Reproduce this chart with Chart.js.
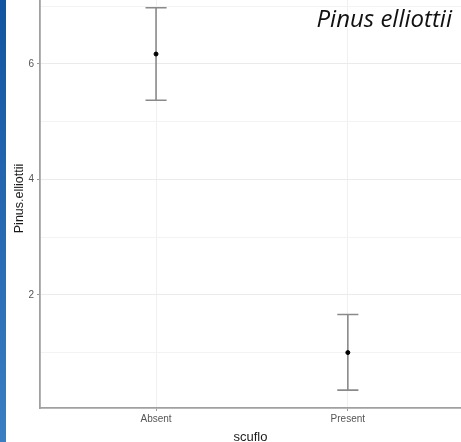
<!DOCTYPE html>
<html>
<head>
<meta charset="utf-8">
<script src="https://cdn.jsdelivr.net/npm/chart.js@4.4.1/dist/chart.umd.min.js"></script>
<style>
  html, body { margin: 0; padding: 0; background: #fff; overflow: hidden; }
  #wrap { position: relative; width: 461px; height: 442px; overflow: hidden; }
  #bar { position: absolute; left: 0; top: 0; width: 6px; height: 442px;
         background: linear-gradient(to bottom, #1354a0, #3b7ec2); z-index: 2; }
  #cv { position: absolute; left: 0; top: -20px; }
  #label { position: absolute; right: 9px; top: 4px; font-family: "Open Sans", sans-serif;
           font-style: italic; font-size: 24px; line-height: 1.2; color: #111; z-index: 3; }
</style>
</head>
<body>
<div id="wrap">
  <div id="bar"></div>
  <canvas id="cv" width="464" height="465"></canvas>
  <div id="label">Pinus elliottii</div>
</div>
<script>
const categories = ["Absent", "Present"];
const means = [6.17, 1.0];
const upper = [6.97, 1.66];
const lower = [5.37, 0.35];
const yMajorTicks = [2, 4, 6];
const yAllTicks = [1, 2, 3, 4, 5, 6, 7];

const points = categories.map((c, i) => ({ x: i + 1, y: means[i] }));

const errorBars = {
  id: 'errorBars',
  beforeDatasetsDraw(chart) {
    const { ctx, scales: { x, y } } = chart;
    ctx.save();
    ctx.strokeStyle = '#8a8a8a';
    ctx.lineWidth = 1.6;
    categories.forEach((c, i) => {
      const px = x.getPixelForValue(i + 1);
      const pu = y.getPixelForValue(upper[i]);
      const pl = y.getPixelForValue(lower[i]);
      const half = (x.getPixelForValue(1.055) - x.getPixelForValue(1));
      ctx.beginPath();
      ctx.moveTo(px, pu); ctx.lineTo(px, pl);
      ctx.moveTo(px - half, pu); ctx.lineTo(px + half, pu);
      ctx.moveTo(px - half, pl); ctx.lineTo(px + half, pl);
      ctx.stroke();
    });
    ctx.restore();
  }
};

new Chart(document.getElementById('cv'), {
  type: 'scatter',
  data: {
    datasets: [{
      data: points,
      backgroundColor: '#000',
      borderColor: '#000',
      pointRadius: 2,
      pointHoverRadius: 2
    }]
  },
  options: {
    responsive: false,
    animation: false,
    events: [],
    layout: { padding: 0 },
    plugins: { legend: { display: false }, tooltip: { enabled: false } },
    scales: {
      x: {
        type: 'linear',
        min: 0.395,
        max: 2.59,
        afterBuildTicks(axis) { axis.ticks = categories.map((c, i) => ({ value: i + 1 })); },
        afterFit(axis) { axis.height = 37; },
        ticks: {
          callback: (v) => categories[v - 1],
          color: '#555',
          font: { family: 'Liberation Sans', size: 10 },
          padding: 2,
          maxRotation: 0
        },
        grid: { color: '#f0f0f0', lineWidth: 1, tickLength: 3, tickColor: '#999' },
        border: { color: '#a0a0a0', width: 1.8 },
        title: {
          display: true,
          text: 'scuflo',
          color: '#1a1a1a',
          font: { family: 'Liberation Sans', size: 13 },
          padding: { top: 0, bottom: 0 }
        }
      },
      y: {
        type: 'linear',
        min: 0.04,
        max: 7.296,
        afterBuildTicks(axis) { axis.ticks = yAllTicks.map(v => ({ value: v })); },
        afterFit(axis) { axis.width = 40; },
        ticks: {
          callback: (v) => yMajorTicks.includes(v) ? String(v) : '',
          color: '#555',
          font: { family: 'Liberation Sans', size: 10 },
          padding: 3
        },
        grid: {
          color: (c) => (c.tick && yMajorTicks.includes(c.tick.value)) ? '#ebebeb' : '#f3f3f3',
          lineWidth: 1,
          tickLength: 3,
          tickColor: (c) => (c.tick && yMajorTicks.includes(c.tick.value)) ? '#999' : 'rgba(0,0,0,0)'
        },
        border: { color: '#a0a0a0', width: 1.8 },
        title: {
          display: true,
          text: 'Pinus.elliottii',
          color: '#1a1a1a',
          font: { family: 'Liberation Sans', size: 12.5 },
          padding: { top: 12, bottom: 0 }
        }
      }
    }
  },
  plugins: [errorBars]
});
</script>
</body>
</html>
